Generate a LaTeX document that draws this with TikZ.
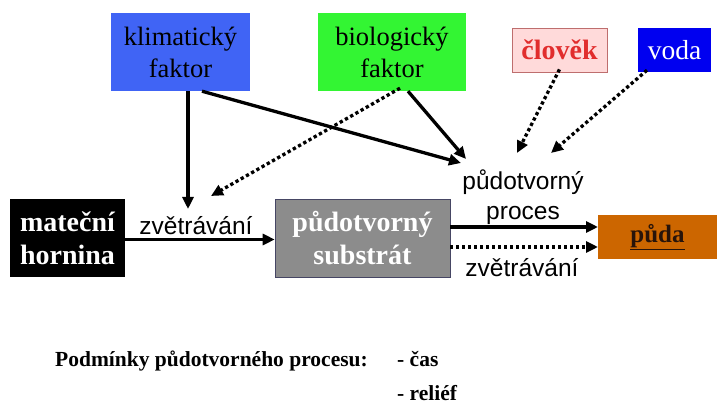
\documentclass[tikz,border=0pt]{standalone}
\usepackage{fontspec}
\setmainfont{Liberation Serif}
\setsansfont{Liberation Sans}
\usetikzlibrary{arrows.meta}
\definecolor{klimblue}{RGB}{64,100,245}
\definecolor{biogreen}{RGB}{51,245,51}
\definecolor{clpink}{RGB}{255,218,218}
\definecolor{clborder}{RGB}{190,110,110}
\definecolor{clred}{RGB}{225,45,45}
\definecolor{vodablue}{RGB}{0,0,240}
\definecolor{subgray}{RGB}{140,140,140}
\definecolor{pudaorange}{RGB}{204,102,0}
\tikzset{
  box/.style={rectangle, inner sep=0pt, align=center, font=\fontsize{26.5}{32}\selectfont},
  boldbox/.style={box, font=\bfseries\fontsize{28}{33}\selectfont},
  lbl/.style={align=center, font=\sffamily\fontsize{24.5}{30}\selectfont},
  arr/.style={line width=3.3pt, -{Triangle[length=12pt,width=11pt]}},
  dotarr/.style={arr, dash pattern=on 3.3pt off 2.7pt},
}
\begin{document}
\begin{tikzpicture}[x=1pt,y=-1pt]
\useasboundingbox (0,0) rectangle (717,414);
\fill[white] (0,0) rectangle (717,414);
% boxes
\node[box, fill=klimblue, minimum width=139pt, minimum height=78pt] (klim) at (180.5,52) {klimatický\\faktor};
\node[box, fill=biogreen, minimum width=148pt, minimum height=78pt] (bio) at (392,52) {biologický\\faktor};
\node[boldbox, fill=clpink, draw=clborder, line width=0.8pt, text=clred, minimum width=95pt, minimum height=44pt] (clovek) at (559.5,50) {člověk};
\node[box, fill=vodablue, text=white, font=\fontsize{27.5}{32}\selectfont, minimum width=73pt, minimum height=44pt] (voda) at (674.5,50) {voda};
\node[boldbox, fill=black, text=white, minimum width=115pt, minimum height=78pt] (hornina) at (67.5,238) {mateční\\hornina};
\node[boldbox, fill=subgray, draw={rgb,255:red,70;green,70;blue,100}, line width=0.6pt, text=white, minimum width=175pt, minimum height=78pt] (substrat) at (362.5,238) {půdotvorný\\substrát};
\node[box, fill=pudaorange, text={rgb,255:red,40;green,20;blue,10}, font=\bfseries\fontsize{25}{30}\selectfont, minimum width=119pt, minimum height=44pt] (puda) at (657.5,237) {\underline{půda}};
% labels
\node[lbl, anchor=base, inner sep=0pt] (zv1) at (196,234) {zvětrávání};
\node[lbl] (proces) at (523,197) {půdotvorný\\proces};
\node[lbl] (zv2) at (522,268) {zvětrávání};
% arrow ends
\coordinate (kdown) at (188,209);
\coordinate (bdot) at (211,196);
\coordinate (kproc) at (461,163);
\coordinate (bproc) at (466,159);
\coordinate (cproc) at (517,153);
\coordinate (vproc) at (551,153);
\coordinate (sTop) at (450,227);
\coordinate (pTop) at (598,227);
\coordinate (sBot) at (450,247);
\coordinate (pBot) at (598,247);
% connectors
\draw[arr] ([yshift=-1.5pt]hornina.east) -- ([yshift=-1.5pt]substrat.west);
\draw[arr] (sTop) -- (pTop);
\draw[dotarr] (sBot) -- (pBot);
\draw[arr] ([xshift=7.5pt]klim.south) -- (kdown);
\draw[arr] ([xshift=21.5pt]klim.south) -- (kproc);
\draw[arr] ([xshift=16pt]bio.south) -- (bproc);
\draw[dotarr] ([xshift=8pt,yshift=3pt]bio.south) -- (bdot);
\draw[dotarr] ([yshift=3pt]clovek.south) -- (cproc);
\draw[dotarr] ([xshift=-27.5pt,yshift=2pt]voda.south) -- (vproc);
% bottom text
\node[anchor=base west, font=\bfseries\fontsize{21.5}{26}\selectfont, inner sep=0pt] (podm) at (55,366) {Podmínky půdotvorného procesu:};
\node[anchor=base west, font=\bfseries\fontsize{21.5}{26}\selectfont, inner sep=0pt] (cas) at (397,366) {- čas};
\node[anchor=base west, font=\bfseries\fontsize{21.5}{26}\selectfont, inner sep=0pt] (relief) at (397,400) {- reliéf};
\end{tikzpicture}
\end{document}
